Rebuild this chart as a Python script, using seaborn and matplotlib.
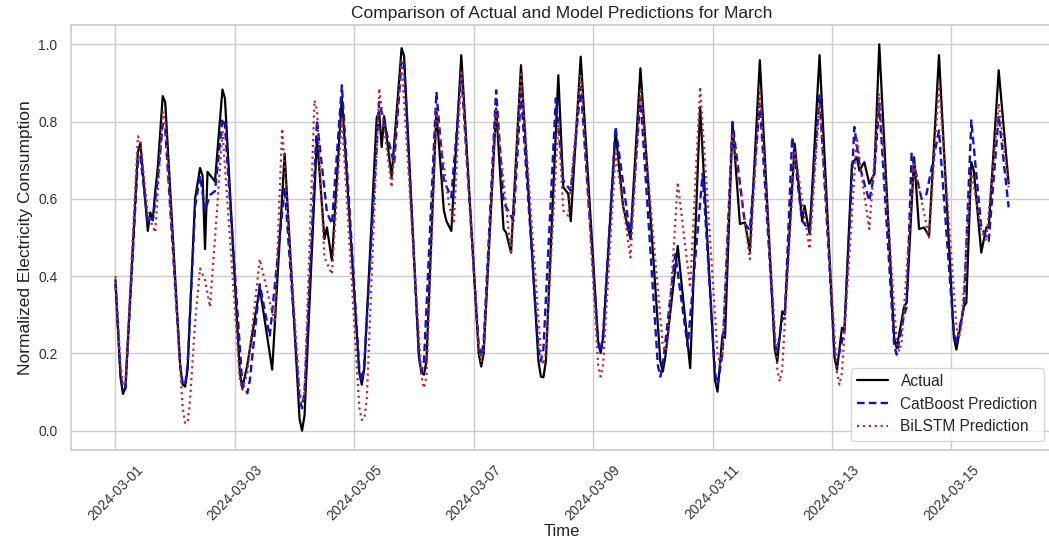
import numpy as np
import pandas as pd
import matplotlib
matplotlib.use("Agg")
import matplotlib.pyplot as plt
import matplotlib.dates as mdates
import seaborn as sns

START = pd.Timestamp("2024-03-01 00:00")

# Key points: hour offset from 2024-03-01 00:00 and normalized value
actual_hours = [0, 3, 4, 9, 10, 13, 14, 15, 16, 17, 19, 20, 27, 28,
                32, 34, 35, 36, 37, 40, 43, 44,
                51, 53, 58, 63, 68, 75,
                81, 84, 85, 87, 91,
                99, 105, 106, 107, 108, 111, 115, 116,
                123, 124, 129, 132, 133, 135, 139,
                147, 153, 156, 157, 159, 163,
                171, 172, 178, 180, 182, 183, 187,
                195, 201, 204, 207, 211,
                220, 226, 231, 235,
                242, 244, 245, 248, 251, 253, 255, 259,
                266, 268, 269, 273, 276, 277, 279, 283,
                290, 292, 293, 296, 298, 299, 301, 303, 305, 307,
                314, 317, 318, 321, 323, 325, 327, 331,
                338, 341, 342, 344, 345, 348, 350, 351, 355, 359]
actual_values = [0.39, 0.095, 0.11, 0.72, 0.745, 0.517, 0.565, 0.545, 0.62, 0.68, 0.866, 0.85, 0.12, 0.114,
                 0.60, 0.68, 0.66, 0.47, 0.67, 0.645, 0.883, 0.86,
                 0.11, 0.17, 0.37, 0.158, 0.717, 0.0,
                 0.76, 0.496, 0.526, 0.44, 0.864,
                 0.119, 0.81, 0.825, 0.734, 0.814, 0.656, 0.99, 0.97,
                 0.15, 0.145, 0.829, 0.57, 0.543, 0.517, 0.972,
                 0.166, 0.834, 0.522, 0.513, 0.461, 0.946,
                 0.14, 0.138, 0.92, 0.63, 0.613, 0.542, 0.968,
                 0.201, 0.777, 0.582, 0.496, 0.938,
                 0.153, 0.478, 0.162, 0.838,
                 0.101, 0.249, 0.24, 0.795, 0.535, 0.539, 0.465, 0.959,
                 0.179, 0.309, 0.30, 0.743, 0.543, 0.582, 0.509, 0.972,
                 0.158, 0.266, 0.262, 0.69, 0.708, 0.673, 0.695, 0.639, 0.665, 1.0,
                 0.214, 0.322, 0.331, 0.708, 0.522, 0.526, 0.504, 0.972,
                 0.21, 0.322, 0.331, 0.695, 0.673, 0.461, 0.526, 0.526, 0.933, 0.64]
# readings on the rounded flanks of the night-time troughs
actual_trough_hours = [2, 26, 29, 50, 74, 76, 98, 100, 122, 125, 146, 148, 170, 173,
                       194, 196, 219, 221, 241, 265, 289, 313, 337]
actual_trough_values = [0.14, 0.17, 0.16, 0.15, 0.03, 0.04, 0.15, 0.16, 0.19, 0.18, 0.2, 0.2, 0.18, 0.18,
                        0.23, 0.24, 0.18, 0.19, 0.13, 0.21, 0.19, 0.24, 0.24]

catboost_hours = [0, 3, 4, 9, 10, 13, 14, 15, 17, 19, 20, 27, 28,
                  32, 34, 36, 38, 40, 43, 44,
                  51, 53, 58, 62, 68, 75,
                  81, 85, 87, 91,
                  99, 106, 112, 115, 116,
                  123, 129, 132, 135, 139,
                  147, 153, 156, 160, 163,
                  171, 177, 180, 183, 187,
                  195, 201, 207, 211,
                  219, 225, 230, 236,
                  242, 244, 248, 253, 255, 259,
                  266, 268, 269, 272, 276, 279, 283,
                  290, 293, 297, 299, 301, 303, 305, 307,
                  314, 317, 318, 320, 324, 326, 331,
                  338, 341, 344, 348, 351, 355, 359]
catboost_values = [0.38, 0.105, 0.11, 0.70, 0.71, 0.54, 0.55, 0.545, 0.65, 0.795, 0.78, 0.12, 0.119,
                   0.58, 0.66, 0.57, 0.61, 0.62, 0.808, 0.79,
                   0.12, 0.097, 0.379, 0.244, 0.63, 0.058,
                   0.803, 0.565, 0.535, 0.894,
                   0.127, 0.851, 0.69, 0.959, 0.95,
                   0.153, 0.877, 0.647, 0.604, 0.925,
                   0.192, 0.881, 0.591, 0.543, 0.873,
                   0.18, 0.86, 0.647, 0.621, 0.89,
                   0.205, 0.786, 0.5, 0.864,
                   0.14, 0.457, 0.218, 0.665,
                   0.119, 0.2, 0.799, 0.535, 0.52, 0.847,
                   0.205, 0.29, 0.29, 0.76, 0.543, 0.517, 0.868,
                   0.175, 0.26, 0.786, 0.69, 0.639, 0.595, 0.665, 0.847,
                   0.197, 0.30, 0.32, 0.717, 0.60, 0.613, 0.777,
                   0.227, 0.32, 0.803, 0.526, 0.491, 0.816, 0.578]
catboost_trough_hours = [2, 26, 29, 52, 54, 74, 76, 98, 100, 122, 124, 146, 148, 170, 172,
                         194, 196, 218, 220, 241, 265, 289, 313, 337]
catboost_trough_values = [0.15, 0.17, 0.17, 0.11, 0.13, 0.08, 0.1, 0.16, 0.17, 0.19, 0.18, 0.22, 0.23, 0.21, 0.21,
                          0.23, 0.25, 0.17, 0.17, 0.15, 0.23, 0.2, 0.22, 0.25]

bilstm_hours = [0, 3, 4, 9, 10, 13, 16, 19, 20, 28, 29,
                32, 34, 36, 38, 41, 43,
                51, 53, 58, 64, 67, 75,
                80, 81, 84, 87, 91,
                99, 100, 106, 111, 115,
                124, 129, 134, 136, 139,
                147, 153, 159, 163,
                172, 178, 180, 182, 187,
                195, 201, 207, 211,
                221, 226, 231, 235,
                243, 248, 255, 259,
                267, 273, 279, 283,
                291, 298, 300, 303, 307,
                315, 321, 327, 331,
                339, 344, 348, 350, 355, 359]
bilstm_values = [0.40, 0.12, 0.12, 0.762, 0.75, 0.56, 0.513, 0.825, 0.80, 0.02, 0.02,
                 0.28, 0.42, 0.39, 0.32, 0.587, 0.777,
                 0.106, 0.15, 0.444, 0.279, 0.782, 0.071,
                 0.855, 0.83, 0.448, 0.405, 0.812,
                 0.028, 0.03, 0.886, 0.63, 0.955,
                 0.11, 0.83, 0.587, 0.535, 0.933,
                 0.18, 0.83, 0.457, 0.929,
                 0.171, 0.80, 0.57, 0.556, 0.925,
                 0.14, 0.717, 0.448, 0.886,
                 0.205, 0.643, 0.37, 0.89,
                 0.171, 0.77, 0.444, 0.881,
                 0.127, 0.725, 0.47, 0.847,
                 0.119, 0.76, 0.656, 0.522, 0.873,
                 0.205, 0.69, 0.5, 0.899,
                 0.24, 0.673, 0.517, 0.491, 0.847, 0.63]
bilstm_trough_hours = [2, 27, 30, 50, 74, 76, 98, 101, 123, 125, 146, 148, 171, 173,
                       194, 196, 220, 222, 242, 244, 266, 268, 290, 292, 314, 316, 338, 340]
bilstm_trough_values = [0.17, 0.06, 0.08, 0.13, 0.1, 0.1, 0.06, 0.08, 0.14, 0.14, 0.21, 0.21, 0.2, 0.2,
                        0.17, 0.17, 0.22, 0.23, 0.2, 0.2, 0.16, 0.16, 0.15, 0.15, 0.23, 0.23, 0.27, 0.27]

series_names = ["Actual", "CatBoost Prediction", "BiLSTM Prediction"]
tick_labels_y = [0.0, 0.2, 0.4, 0.6, 0.8, 1.0]


def to_frame(hours, values, extra_hours, extra_values):
    df = pd.DataFrame({"h": list(hours) + list(extra_hours),
                       "Value": list(values) + list(extra_values)})
    df = df.sort_values("h").reset_index(drop=True)
    df["Time"] = START + pd.to_timedelta(df["h"], unit="h")
    return df


sns.set_theme(style="whitegrid")
plt.rcParams["font.family"] = ["Liberation Sans", "DejaVu Sans"]

fig = plt.figure(figsize=(10.49, 5.42), dpi=100)
ax = fig.add_axes([70.8 / 1049, 92 / 542, 982.5 / 1049, 425 / 542])

sns.lineplot(data=to_frame(actual_hours, actual_values, actual_trough_hours, actual_trough_values),
             x="Time", y="Value", ax=ax, color="black", linewidth=1.6, label=series_names[0])
sns.lineplot(data=to_frame(catboost_hours, catboost_values, catboost_trough_hours, catboost_trough_values),
             x="Time", y="Value", ax=ax, color="#1010c8", linewidth=1.7,
             linestyle=(0, (3.2, 1.8)), label=series_names[1])
sns.lineplot(data=to_frame(bilstm_hours, bilstm_values, bilstm_trough_hours, bilstm_trough_values),
             x="Time", y="Value", ax=ax, color="#b02a3a", linewidth=1.6, linestyle=":",
             label=series_names[2])

t0 = START - pd.Timedelta(hours=17.95)
t1 = START + pd.Timedelta(hours=376.95)
ax.set_xlim(t0, t1)
ax.set_ylim(-0.05, 1.05)

ax.xaxis.set_major_locator(mdates.DayLocator(bymonthday=range(1, 32, 2)))
ax.xaxis.set_major_formatter(mdates.DateFormatter("%Y-%m-%d"))
ax.set_yticks(tick_labels_y)
plt.setp(ax.get_xticklabels(), rotation=45, ha="center", fontsize=10, color="#333333")
plt.setp(ax.get_yticklabels(), fontsize=10, color="#333333")
ax.tick_params(axis="x", pad=3)

ax.set_title("Comparison of Actual and Model Predictions for March", fontsize=12.5, color="#222222", pad=5)
ax.set_xlabel("Time", fontsize=12, color="#222222", labelpad=1)
ax.set_ylabel("Normalized Electricity Consumption", fontsize=12.5, color="#222222", labelpad=4)

leg = ax.legend(loc="lower right", fontsize=11.2, frameon=True, borderaxespad=0.6)

fig.savefig("out.png", dpi=100)
